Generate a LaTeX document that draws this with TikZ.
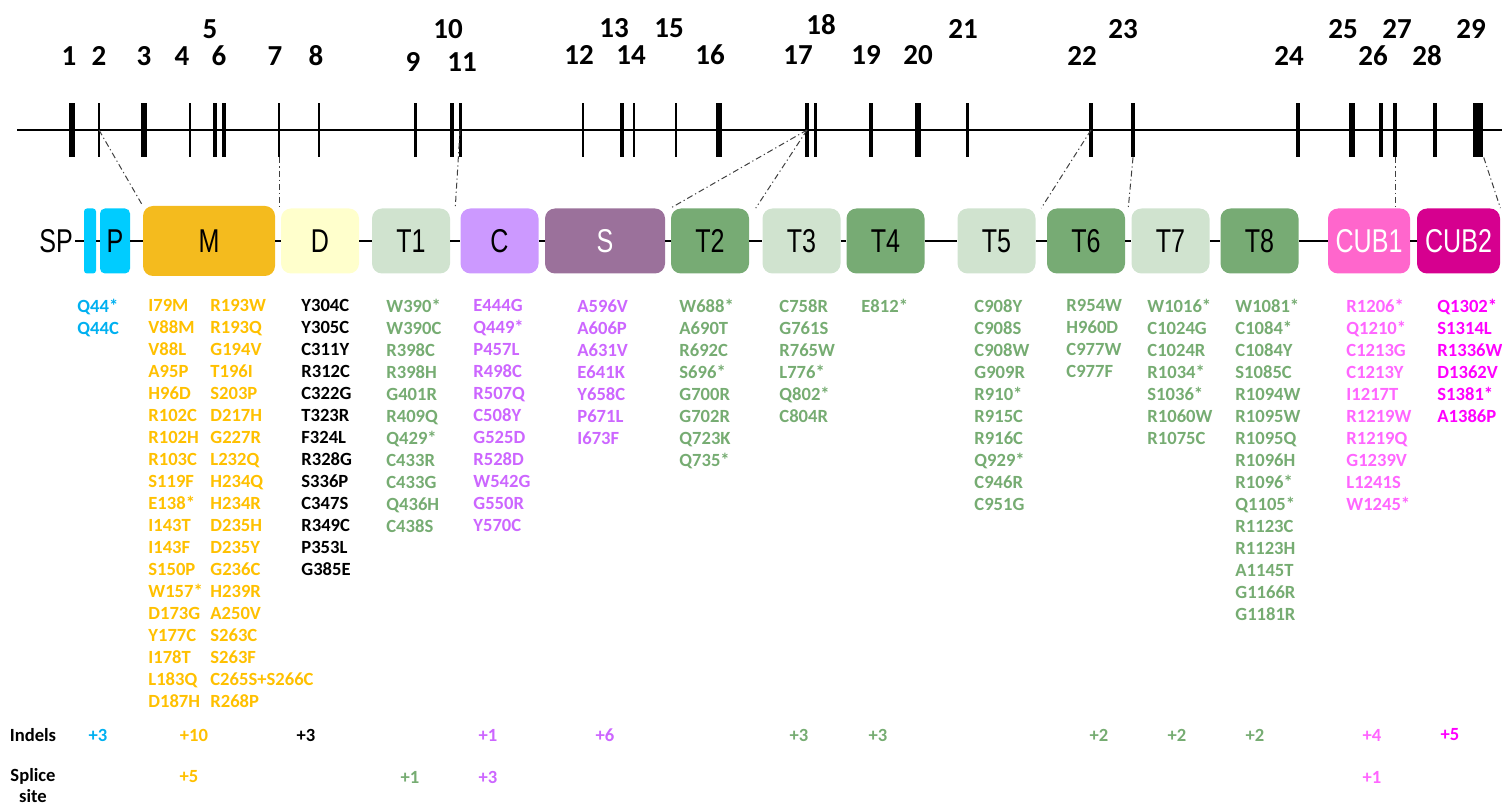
\documentclass[tikz,border=0pt]{standalone}
\usepackage{fontspec}
\setmainfont{Carlito}
\newfontfamily\domfont[FakeStretch=0.76]{Liberation Sans}
\usetikzlibrary{calc}

\definecolor{sigblue}{RGB}{0,204,255}
\definecolor{mgold}{RGB}{244,187,30}
\definecolor{dyellow}{RGB}{255,255,204}
\definecolor{tlight}{RGB}{208,227,207}
\definecolor{tdark}{RGB}{119,171,116}
\definecolor{cpurple}{RGB}{204,153,255}
\definecolor{smauve}{RGB}{155,113,155}
\definecolor{cubpink}{RGB}{255,102,204}
\definecolor{cubmag}{RGB}{214,0,143}
\definecolor{txtblue}{RGB}{0,176,240}
\definecolor{txtgold}{RGB}{255,192,0}
\definecolor{txtgreen}{RGB}{118,172,114}
\definecolor{txtpurple}{RGB}{204,102,255}
\definecolor{txtpink}{RGB}{255,102,255}
\definecolor{txtmag}{RGB}{255,0,255}

\tikzset{
  exon/.style={fill=black, inner sep=0pt, minimum height=27pt, minimum width=#1},
  exonnum/.style={inner sep=0pt, font=\fontsize{14.5}{16}\selectfont\bfseries},
  domain/.style={rounded corners=5pt, fill=#1, minimum height=32.5pt, minimum width=39pt, inner sep=0pt, font=\domfont\fontsize{16.5}{18}\selectfont},
  link/.style={black!75, line width=0.5pt, dash pattern=on 3pt off 1.5pt on 0.6pt off 1.5pt},
  mutlist/.style={anchor=north west, inner sep=0pt, align=left, text=#1, font=\fontsize{9.3}{11}\selectfont\bfseries},
  count/.style={inner sep=0pt, text=#1, font=\fontsize{9.3}{11.5}\selectfont\bfseries}
}

\begin{document}
\begin{tikzpicture}[x=0.5pt, y=-0.5pt]
  \useasboundingbox (0,0) rectangle (1502,806);

  % gene with its exons
  \draw [line width=0.6pt] (17,130) -- (1502,130);
  \node [exon=3pt] (e1) at (72,130) {};
  \node [exon=0.7pt] (e2) at (99,130) {};
  \node [exon=3pt] (e3) at (144,130) {};
  \node [exon=0.7pt] (e4) at (190,130) {};
  \node [exon=2pt] (e5) at (215,130) {};
  \node [exon=2pt] (e6) at (224,130) {};
  \node [exon=0.7pt] (e7) at (279,130) {};
  \node [exon=0.7pt] (e8) at (319,130) {};
  \node [exon=1.5pt] (e9) at (415,130) {};
  \node [exon=2pt] (e10) at (452,130) {};
  \node [exon=1.5pt] (e11) at (460,130) {};
  \node [exon=1.4pt] (e12) at (583,130) {};
  \node [exon=2pt] (e13) at (622,130) {};
  \node [exon=0.8pt] (e14) at (634,130) {};
  \node [exon=0.7pt] (e15) at (676,130) {};
  \node [exon=3pt] (e16) at (719,130) {};
  \node [exon=2pt] (e17) at (807,130) {};
  \node [exon=1.5pt] (e18) at (815,130) {};
  \node [exon=1.8pt] (e19) at (871,130) {};
  \node [exon=3pt] (e20) at (918,130) {};
  \node [exon=1.5pt] (e21) at (967,130) {};
  \node [exon=2.2pt] (e22) at (1091,130) {};
  \node [exon=2pt] (e23) at (1133,130) {};
  \node [exon=2pt] (e24) at (1298,130) {};
  \node [exon=3pt] (e25) at (1352,130) {};
  \node [exon=2pt] (e26) at (1381,130) {};
  \node [exon=2pt] (e27) at (1395,130) {};
  \node [exon=2pt] (e28) at (1435,130) {};
  \node [exon=5.3pt] (e29) at (1478,130) {};

  % exon numbers
  \node [exonnum] (n1) at (69,56) {1};
  \node [exonnum] (n2) at (99,56) {2};
  \node [exonnum] (n3) at (144,56) {3};
  \node [exonnum] (n4) at (182,56) {4};
  \node [exonnum] (n5) at (210,29) {5};
  \node [exonnum] (n6) at (219,56) {6};
  \node [exonnum] (n7) at (275,56) {7};
  \node [exonnum] (n8) at (316,56) {8};
  \node [exonnum] (n9) at (413,62) {9};
  \node [exonnum] (n10) at (448,29) {10};
  \node [exonnum] (n11) at (462,62) {11};
  \node [exonnum] (n12) at (579,55) {12};
  \node [exonnum] (n13) at (614,28) {13};
  \node [exonnum] (n14) at (631,55) {14};
  \node [exonnum] (n15) at (669,28) {15};
  \node [exonnum] (n16) at (710,55) {16};
  \node [exonnum] (n17) at (798,55) {17};
  \node [exonnum] (n18) at (821,25) {18};
  \node [exonnum] (n19) at (866,55) {19};
  \node [exonnum] (n20) at (918,55) {20};
  \node [exonnum] (n21) at (963,29) {21};
  \node [exonnum] (n22) at (1082,56) {22};
  \node [exonnum] (n23) at (1123,29) {23};
  \node [exonnum] (n24) at (1289,56) {24};
  \node [exonnum] (n25) at (1343,29) {25};
  \node [exonnum] (n26) at (1373,56) {26};
  \node [exonnum] (n27) at (1397,29) {27};
  \node [exonnum] (n28) at (1427,56) {28};
  \node [exonnum] (n29) at (1471,29) {29};

  % protein domains
  \node [inner sep=1pt, font=\domfont\fontsize{16.5}{18}\selectfont] (sp) at (56,241) {SP};
  \node [domain=sigblue, minimum width=6pt, rounded corners=1.5pt] (sig) at (90,241) {};
  \node [domain=sigblue, minimum width=15pt, rounded corners=2.5pt] (p) at (115,241) {P};
  \node [domain=mgold, minimum width=66pt, minimum height=35pt] (m) at (209,241) {M};
  \node [domain=dyellow] (d) at (320,241) {D};
  \node [domain=tlight] (t1) at (411,241) {T1};
  \node [domain=cpurple] (c) at (499.5,241) {C};
  \node [domain=smauve, minimum width=60pt, text=white] (s) at (605,241) {S};
  \node [domain=tdark] (t2) at (710,241) {T2};
  \node [domain=tlight] (t3) at (801.5,241) {T3};
  \node [domain=tdark] (t4) at (885.5,241) {T4};
  \node [domain=tlight] (t5) at (996.5,241) {T5};
  \node [domain=tdark] (t6) at (1086,241) {T6};
  \node [domain=tlight] (t7) at (1170.5,241) {T7};
  \node [domain=tdark] (t8) at (1259.5,241) {T8};
  \node [domain=cubpink, minimum width=41pt, text=white] (cub1) at (1369,241) {CUB1};
  \node [domain=cubmag, minimum width=41.5pt, text=white] (cub2) at (1458.5,241) {CUB2};
  \draw [line width=0.8pt] (sp) -- (sig) -- (p) -- (m) -- (d) -- (t1) -- (c) -- (s) -- (t2) -- (t3) -- (t4) -- (t5) -- (t6) -- (t7) -- (t8) -- (cub1) -- (cub2);

  % exons to domains
  \draw [link] (e2.center) -- (m.north west);
  \draw [link] (e7.south) -- (e7.south |- d.north);
  \draw [link] (e11.center) -- ($(t1.north east)!0.5!(c.north west)$);
  \draw [link] (e17.center) -- (t2.north west);
  \draw [link] (e17.center) -- ($(t2.north east)!0.5!(t3.north west)$);
  \draw [link] (e22.center) -- ($(t5.north east)!0.5!(t6.north west)$);
  \draw [link] (e23.south) -- ($(t6.north east)!0.5!(t7.north west)$);
  \draw [link] (e27.south) -- (e27.south |- cub1.north);
  \draw [link] (e29.south east) -- (cub2.north east);

  % missense and nonsense variants
  \node [mutlist=txtblue] (vp) at (77,299) {Q44*\\Q44C};
  \node [mutlist=txtgold] (vm1) at (148,299) {I79M\\V88M\\V88L\\A95P\\H96D\\R102C\\R102H\\R103C\\S119F\\E138*\\I143T\\I143F\\S150P\\W157*\\D173G\\Y177C\\I178T\\L183Q\\D187H};
  \node [mutlist=txtgold] (vm2) at (210,299) {R193W\\R193Q\\G194V\\T196I\\S203P\\D217H\\G227R\\L232Q\\H234Q\\H234R\\D235H\\D235Y\\G236C\\H239R\\A250V\\S263C\\S263F\\C265S+S266C\\R268P};
  \node [mutlist=black] (vd) at (301,299) {Y304C\\Y305C\\C311Y\\R312C\\C322G\\T323R\\F324L\\R328G\\S336P\\C347S\\R349C\\P353L\\G385E};
  \node [mutlist=txtgreen] (vt1) at (386,299) {W390*\\W390C\\R398C\\R398H\\G401R\\R409Q\\Q429*\\C433R\\C433G\\Q436H\\C438S};
  \node [mutlist=txtpurple] (vc) at (473,299) {E444G\\Q449*\\P457L\\R498C\\R507Q\\C508Y\\G525D\\R528D\\W542G\\G550R\\Y570C};
  \node [mutlist=txtpurple] (vs) at (577,299) {A596V\\A606P\\A631V\\E641K\\Y658C\\P671L\\I673F};
  \node [mutlist=txtgreen] (vt2) at (679,299) {W688*\\A690T\\R692C\\S696*\\G700R\\G702R\\Q723K\\Q735*};
  \node [mutlist=txtgreen] (vt3) at (779,299) {C758R\\G761S\\R765W\\L776*\\Q802*\\C804R};
  \node [mutlist=txtgreen] (vt4) at (861,299) {E812*};
  \node [mutlist=txtgreen] (vt5) at (974,299) {C908Y\\C908S\\C908W\\G909R\\R910*\\R915C\\R916C\\Q929*\\C946R\\C951G};
  \node [mutlist=txtgreen] (vt6) at (1066,299) {R954W\\H960D\\C977W\\C977F};
  \node [mutlist=txtgreen] (vt7) at (1147,299) {W1016*\\C1024G\\C1024R\\R1034*\\S1036*\\R1060W\\R1075C};
  \node [mutlist=txtgreen] (vt8) at (1235,299) {W1081*\\C1084*\\C1084Y\\S1085C\\R1094W\\R1095W\\R1095Q\\R1096H\\R1096*\\Q1105*\\R1123C\\R1123H\\A1145T\\G1166R\\G1181R};
  \node [mutlist=txtpink] (vcub1) at (1346,299) {R1206*\\Q1210*\\C1213G\\C1213Y\\I1217T\\R1219W\\R1219Q\\G1239V\\L1241S\\W1245*};
  \node [mutlist=txtmag] (vcub2) at (1437,299) {Q1302*\\S1314L\\R1336W\\D1362V\\S1381*\\A1386P};

  % indels
  \node [count=black] (indels) at (33,735) {Indels};
  \node [count=txtblue] (ip) at (98,735) {+3};
  \node [count=txtgold] (im) at (194,735) {+10};
  \node [count=black] (id) at (306,735) {+3};
  \node [count=txtpurple] (ic) at (488,735) {+1};
  \node [count=txtpurple] (is) at (605,735) {+6};
  \node [count=txtgreen] (it3) at (799,735) {+3};
  \node [count=txtgreen] (it4) at (878,735) {+3};
  \node [count=txtgreen] (it6) at (1099,735) {+2};
  \node [count=txtgreen] (it7) at (1177,735) {+2};
  \node [count=txtgreen] (it8) at (1255,735) {+2};
  \node [count=txtpink] (icub1) at (1372,735) {+4};
  \node [count=txtmag] (icub2) at (1450,735) {+5};

  % splice site
  \node [count=black, align=center, font=\fontsize{9.3}{10.5}\selectfont\bfseries] (splice) at (33,786) {Splice\\site};
  \node [count=txtgold] (sm) at (189,777) {+5};
  \node [count=txtgreen] (st1) at (410,777) {+1};
  \node [count=txtpurple] (sc) at (488,777) {+3};
  \node [count=txtpink] (scub1) at (1372,777) {+1};
\end{tikzpicture}
\end{document}
